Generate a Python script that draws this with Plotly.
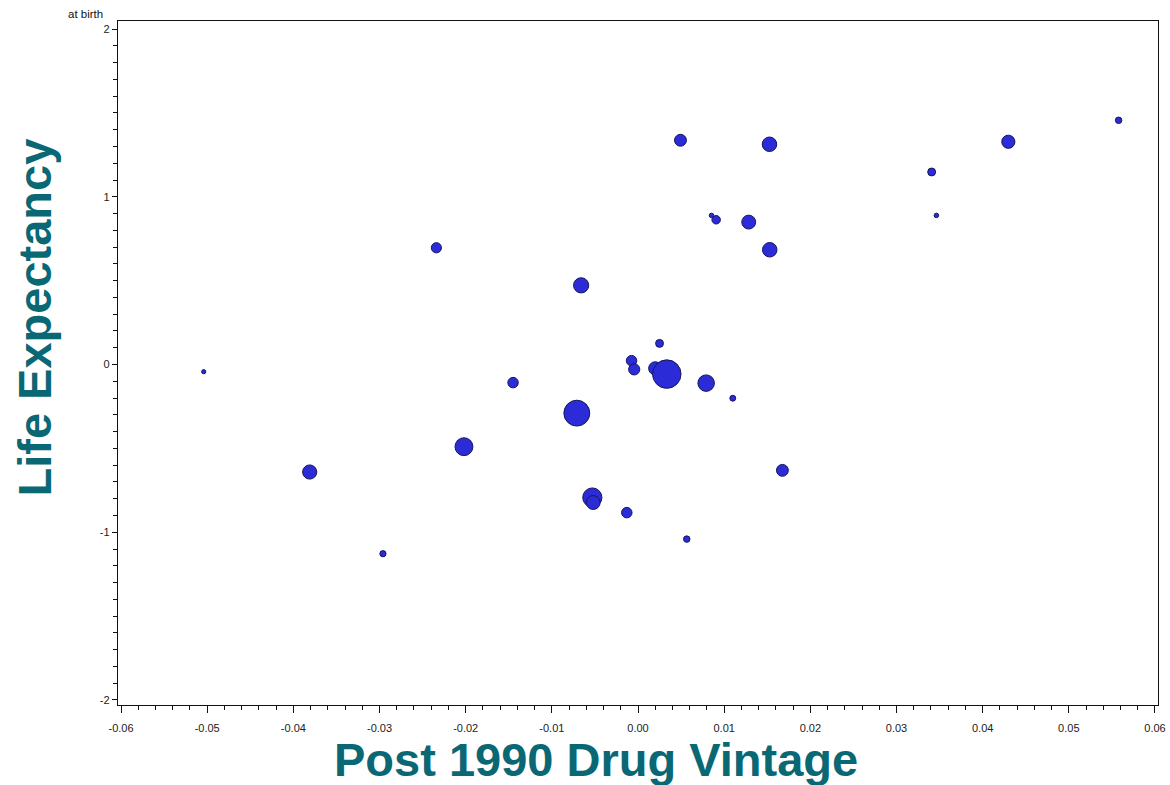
import plotly.graph_objects as go

# Data
drug_vintage = [-0.0504, -0.0381, -0.0296, -0.0234, -0.0202, -0.0145, -0.0066, -0.0071,
                -0.0053, -0.0052, -0.0013, -0.00075, -0.00044, 0.0025, 0.0020, 0.00334,
                0.00566, 0.00493, 0.00791, 0.00853, 0.00907, 0.0110, 0.01285, 0.01526,
                0.01529, 0.01676, 0.03408, 0.03463, 0.04298, 0.05578]
life_expectancy = [-0.043, -0.641, -1.128, 0.696, -0.490, -0.108, 0.472, -0.290,
                   -0.793, -0.823, -0.883, 0.023, -0.029, 0.126, -0.023, -0.057,
                   -1.041, 1.337, -0.111, 0.889, 0.863, -0.201, 0.849, 1.313,
                   0.684, -0.631, 1.148, 0.889, 1.328, 1.456]
bubble_size = [5, 15, 7, 11, 18.7, 11.3, 16, 26.7,
               20, 14.7, 11.3, 11.3, 12, 8.7, 14, 29.3,
               7.3, 12.7, 17.3, 5.3, 9.3, 6.7, 14.7, 15.3,
               15.3, 12.7, 8.7, 5.3, 14, 7.3]

x_tickvals = [-0.06, -0.05, -0.04, -0.03, -0.02, -0.01, 0.0, 0.01, 0.02, 0.03, 0.04, 0.05, 0.06]
x_ticktext = ["-0.06", "-0.05", "-0.04", "-0.03", "-0.02", "-0.01", "0.00",
              "0.01", "0.02", "0.03", "0.04", "0.05", "0.06"]
y_tickvals = [2, 1, 0, -1, -2]
y_ticktext = ["2", "1", "0", "-1", "-2"]

TEAL = "#0A6874"
FONT = "Liberation Sans, Arial, sans-serif"

fig = go.Figure()
fig.add_trace(go.Scatter(
    x=drug_vintage, y=life_expectancy, mode="markers",
    marker=dict(size=[s - 0.8 for s in bubble_size], color="#2B2BD8",
                line=dict(color="#16165C", width=1), opacity=1),
    showlegend=False, hoverinfo="x+y",
))

fig.update_layout(
    width=1170, height=785, autosize=False,
    margin=dict(l=118, r=12, t=21, b=80),
    paper_bgcolor="white", plot_bgcolor="white",
    font=dict(family=FONT, size=11, color="#222222"),
    xaxis=dict(
        range=[-0.06035, 0.06035], showgrid=False, zeroline=False, automargin=False,
        showline=True, linecolor="#111111", linewidth=1.3, mirror=True,
        tickmode="array", tickvals=x_tickvals, ticktext=x_ticktext,
        ticks="outside", ticklen=7, tickwidth=1.2, tickcolor="#111111",
        ticklabelstandoff=6,
        minor=dict(dtick=0.002, tick0=0, ticks="outside", ticklen=4,
                   tickwidth=1, tickcolor="#111111", showgrid=False),
        tickfont=dict(size=11, family=FONT, color="#222222"),
    ),
    yaxis=dict(
        range=[-2.03, 2.048], showgrid=False, zeroline=False, automargin=False,
        showline=True, linecolor="#111111", linewidth=1.3, mirror=True,
        tickmode="array", tickvals=y_tickvals, ticktext=y_ticktext,
        ticks="outside", ticklen=5, tickwidth=1.2, tickcolor="#111111",
        minor=dict(dtick=0.1, tick0=0, ticks="outside", ticklen=4,
                   tickwidth=1, tickcolor="#111111", showgrid=False),
        tickfont=dict(size=11, family=FONT, color="#222222"),
    ),
    annotations=[
        dict(text="<b>Post 1990 Drug Vintage</b>", xref="paper", yref="paper",
             x=0.4596, y=-0.080, xanchor="center", yanchor="middle",
             showarrow=False, font=dict(size=47, color=TEAL, family=FONT)),
        dict(text="<b>Life Expectancy</b>", xref="paper", yref="paper",
             x=-0.0798, y=0.5665, xanchor="center", yanchor="middle", textangle=-90,
             showarrow=False, font=dict(size=47, color=TEAL, family=FONT)),
        dict(text="at birth", xref="paper", yref="paper",
             x=-0.050, y=1.0102, xanchor="left", yanchor="middle",
             showarrow=False, font=dict(size=11.5, color="#111111", family=FONT)),
    ],
)

fig.write_html(
    "out.html",
    config={"displayModeBar": False, "responsive": False},
    post_script="document.body.style.margin='0';document.body.style.padding='0';"
                "document.body.style.overflow='hidden';",
)
